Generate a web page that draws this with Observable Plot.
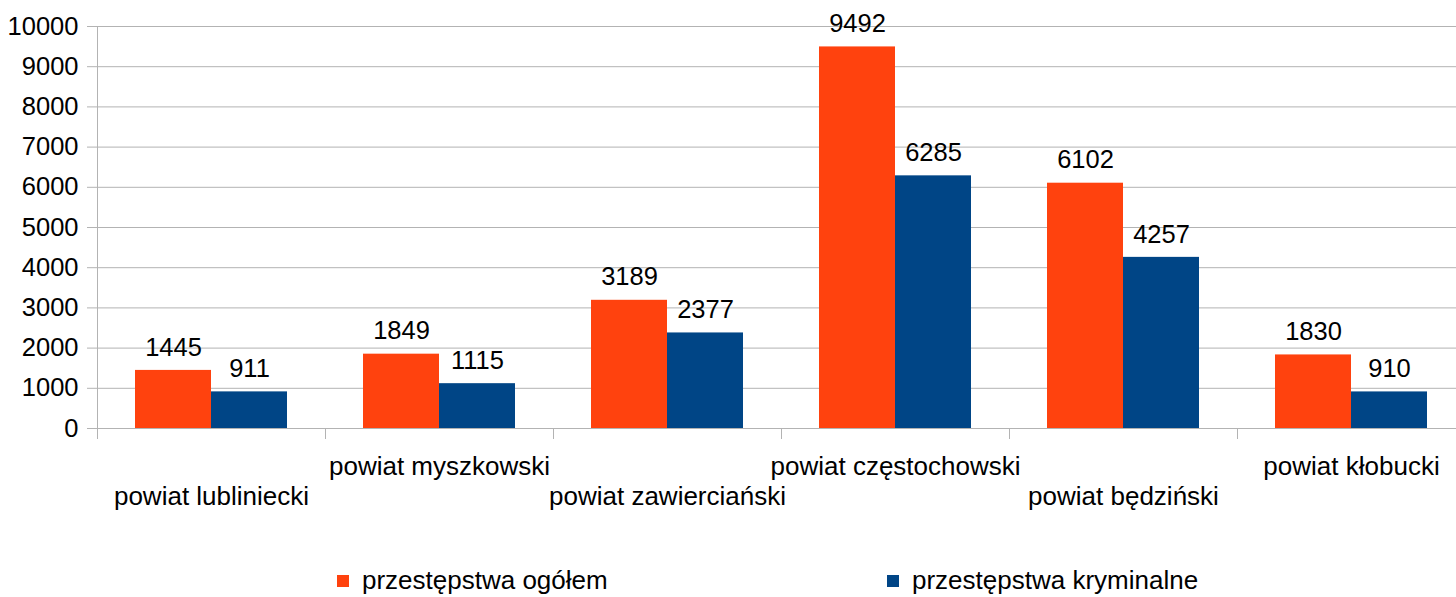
<!DOCTYPE html>
<html>
<head>
<meta charset="utf-8">
<script src="https://cdn.jsdelivr.net/npm/d3@7"></script>
<script src="https://cdn.jsdelivr.net/npm/@observablehq/plot@0.6"></script>
<style>
  html, body { margin: 0; padding: 0; overflow: hidden; background: #fff; }
  body { position: relative; width: 1456px; height: 597px; font-family: "Liberation Sans", Arial, sans-serif; }
  #chart svg { max-width: none !important; }
  #legend .item { position: absolute; font-size: 26px; line-height: 26px; color: #000; white-space: nowrap; }
  #legend .sw { position: absolute; width: 12px; height: 12px; }
</style>
</head>
<body>
<div id="chart"></div>
<div id="legend"></div>
<script>
const categories = ["powiat lubliniecki", "powiat myszkowski", "powiat zawierciański", "powiat częstochowski", "powiat będziński", "powiat kłobucki"];
const seriesNames = ["przestępstwa ogółem", "przestępstwa kryminalne"];
const ogolem = [1445, 1849, 3189, 9492, 6102, 1830];
const kryminalne = [911, 1115, 2377, 6285, 4257, 910];
const yTicks = [0, 1000, 2000, 3000, 4000, 5000, 6000, 7000, 8000, 9000, 10000];
const colors = ["#ff420e", "#004586"];

const data = categories.flatMap((c, i) => [
  {cat: c, series: seriesNames[0], value: ogolem[i]},
  {cat: c, series: seriesNames[1], value: kryminalne[i]}
]);
const lower = categories.filter((_, i) => i % 2 === 0);
const upper = categories.filter((_, i) => i % 2 === 1);

const gray = "#b3b3b3";
const fs = 25.5;
const fsCat = 26;

const chart = Plot.plot({
  width: 1466,
  height: 545,
  marginLeft: 96,
  marginRight: 0,
  marginTop: 26,
  marginBottom: 117,
  style: {fontFamily: "'Liberation Sans', Arial, sans-serif", fontSize: fs + "px", color: "#000", background: "transparent", maxWidth: "none"},
  fx: {domain: categories, padding: 0, axis: null},
  x: {domain: seriesNames, paddingInner: 0, paddingOuter: 0.49, axis: null},
  y: {domain: [0, 10000], axis: null},
  color: {domain: seriesNames, range: colors},
  marks: [
    Plot.gridY(yTicks, {stroke: gray, strokeOpacity: 1, strokeWidth: 1}),
    Plot.axisY(yTicks, {tickSize: 10, tickPadding: 9, tickFormat: d => String(d), stroke: gray, strokeOpacity: 1, fill: "#000", fontSize: fs, label: null}),
    Plot.frame({anchor: "left", facetAnchor: "left", insetBottom: -10, stroke: gray, strokeOpacity: 1}),
    Plot.frame({anchor: "left", insetTop: 402, insetBottom: -10, stroke: gray, strokeOpacity: 1}),
    Plot.barY(data, {fx: "cat", x: "series", y: "value", fill: "series"}),
    Plot.text(data, {fx: "cat", x: "series", y: "value", text: d => String(d.value), dy: -23, fontSize: fs, fill: "#000"}),
    Plot.text(lower, {fx: d => d, text: d => d, frameAnchor: "bottom", lineAnchor: "top", dy: 58, fontSize: fsCat, fill: "#000"}),
    Plot.text(upper, {fx: d => d, text: d => d, frameAnchor: "bottom", lineAnchor: "top", dy: 28, fontSize: fsCat, fill: "#000"})
  ]
});
document.getElementById("chart").appendChild(chart);

// Legend
const legend = document.getElementById("legend");
const legendLeft = [337, 887];
seriesNames.forEach((name, i) => {
  const sw = document.createElement("div");
  sw.className = "sw";
  sw.style.left = legendLeft[i] + "px";
  sw.style.top = "575px";
  sw.style.background = colors[i];
  legend.appendChild(sw);
  const t = document.createElement("div");
  t.className = "item";
  t.style.left = (legendLeft[i] + 25) + "px";
  t.style.top = "567px";
  t.textContent = name;
  legend.appendChild(t);
});
</script>
</body>
</html>
